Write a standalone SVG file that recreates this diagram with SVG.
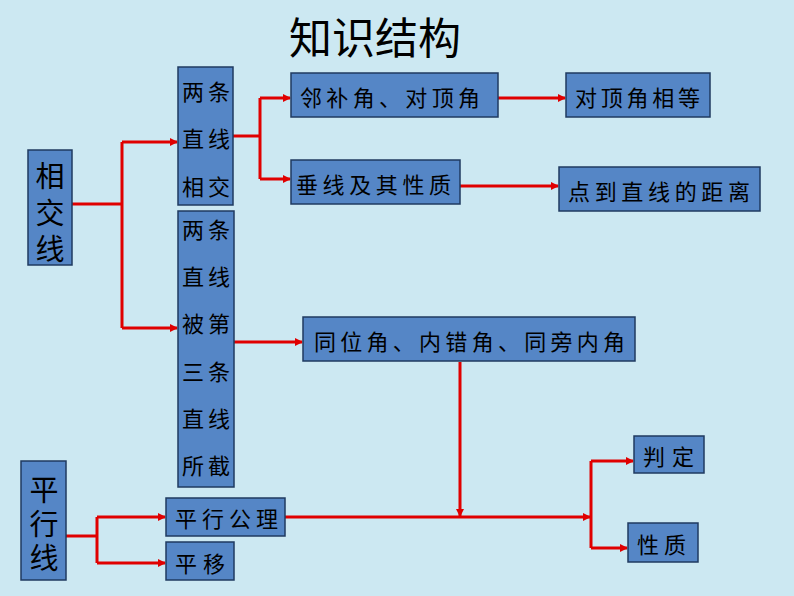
<svg xmlns="http://www.w3.org/2000/svg" width="794" height="596" viewBox="0 0 794 596">
<style>
.box{fill:#5586c6;stroke:#1f3a60;stroke-width:1.5}
.t{font-family:"Noto Sans CJK SC","Noto Sans CJK TC",sans-serif;font-size:22px;fill:#000;dominant-baseline:central}
.m{text-anchor:middle}
.big{font-size:29px}
.c{fill:none;stroke:#e00000;stroke-width:3}
</style>
<defs>
<marker id="ah" markerWidth="8" markerHeight="8" refX="7" refY="4" orient="auto" markerUnits="userSpaceOnUse">
<path d="M0,0 L8,4 L0,8 Z" fill="#e00000"/>
</marker>
</defs>
<rect width="794" height="596" fill="#cce8f2"/>
<text class="t m" x="375" y="35" style="font-size:43px">知识结构</text>

<g id="connectors">
<path class="c" d="M72,204 H122"/>
<path class="c" d="M122,142 V328"/>
<path class="c" d="M122,142 H177" marker-end="url(#ah)"/>
<path class="c" d="M122,328 H177" marker-end="url(#ah)"/>
<path class="c" d="M233,136 H260"/>
<path class="c" d="M260,98 V179"/>
<path class="c" d="M260,98 H290" marker-end="url(#ah)"/>
<path class="c" d="M260,179 H290" marker-end="url(#ah)"/>
<path class="c" d="M498,98 H565" marker-end="url(#ah)"/>
<path class="c" d="M460,186 H558" marker-end="url(#ah)"/>
<path class="c" d="M234,342 H302" marker-end="url(#ah)"/>
<path class="c" d="M460,362 V516" marker-end="url(#ah)"/>
<path class="c" d="M285,517 H590" marker-end="url(#ah)"/>
<path class="c" d="M591,461 V548"/>
<path class="c" d="M591,461 H633" marker-end="url(#ah)"/>
<path class="c" d="M591,548 H627" marker-end="url(#ah)"/>
<path class="c" d="M66,536 H97"/>
<path class="c" d="M97,517 V563"/>
<path class="c" d="M97,517 H165" marker-end="url(#ah)"/>
<path class="c" d="M97,563 H165" marker-end="url(#ah)"/>
</g>

<g id="n-xiangjiaoxian">
<rect class="box" x="28" y="150" width="44" height="115"/>
<text class="t m big"><tspan x="50" y="174">相</tspan><tspan x="50" y="211">交</tspan><tspan x="50" y="247">线</tspan></text>
</g>
<g id="n-liangtiaoxiangjiao">
<rect class="box" x="178" y="67" width="55" height="138"/>
<text class="t m" letter-spacing="4"><tspan x="208" y="90">两条</tspan><tspan x="208" y="137">直线</tspan><tspan x="208" y="185">相交</tspan></text>
</g>
<g id="n-sanxian">
<rect class="box" x="178" y="211" width="56" height="276"/>
<text class="t m" letter-spacing="4"><tspan x="208" y="228">两条</tspan><tspan x="208" y="275">直线</tspan><tspan x="208" y="322">被第</tspan><tspan x="208" y="370">三条</tspan><tspan x="208" y="417">直线</tspan><tspan x="208" y="464">所截</tspan></text>
</g>
<g id="n-linbujiao">
<rect class="box" x="291" y="73" width="207" height="44"/>
<text class="t" x="300" y="96" textLength="180" lengthAdjust="spacing">邻补角、对顶角</text>
</g>
<g id="n-duidingjiaoxiangdeng">
<rect class="box" x="566" y="73" width="144" height="44"/>
<text class="t" x="575" y="96" textLength="125" lengthAdjust="spacing">对顶角相等</text>
</g>
<g id="n-chuixian">
<rect class="box" x="291" y="160" width="169" height="44"/>
<text class="t" x="296" y="183" textLength="155" lengthAdjust="spacing">垂线及其性质</text>
</g>
<g id="n-juli">
<rect class="box" x="559" y="167" width="201" height="44"/>
<text class="t" x="568" y="190" textLength="182" lengthAdjust="spacing">点到直线的距离</text>
</g>
<g id="n-tongweijiao">
<rect class="box" x="303" y="317" width="332" height="44"/>
<text class="t" x="314" y="340" textLength="311" lengthAdjust="spacing">同位角、内错角、同旁内角</text>
</g>
<g id="n-pingxingxian">
<rect class="box" x="21" y="461" width="45" height="119"/>
<text class="t m big"><tspan x="44" y="488">平</tspan><tspan x="44" y="522">行</tspan><tspan x="44" y="556">线</tspan></text>
</g>
<g id="n-gongli">
<rect class="box" x="166" y="498" width="119" height="38"/>
<text class="t" x="175" y="517" textLength="103" lengthAdjust="spacing">平行公理</text>
</g>
<g id="n-pingyi">
<rect class="box" x="166" y="542" width="68" height="38"/>
<text class="t" x="175" y="562" textLength="50" lengthAdjust="spacing">平移</text>
</g>
<g id="n-panding">
<rect class="box" x="634" y="436" width="70" height="37"/>
<text class="t" x="643" y="455" textLength="51" lengthAdjust="spacing">判定</text>
</g>
<g id="n-xingzhi">
<rect class="box" x="628" y="523" width="70" height="39"/>
<text class="t" x="637" y="543" textLength="49" lengthAdjust="spacing">性质</text>
</g>
</svg>
